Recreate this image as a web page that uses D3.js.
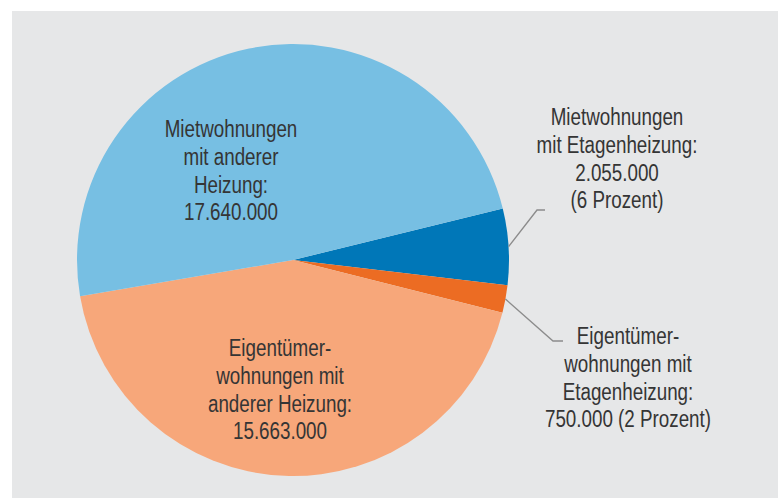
<!DOCTYPE html>
<html>
<head>
<meta charset="utf-8">
<script src="https://cdn.jsdelivr.net/npm/d3@7"></script>
<style>
  body { margin: 0; background: #fff; }
  svg text { font-family: "Liberation Sans", Arial, sans-serif; }
</style>
</head>
<body>
<div id="chart"></div>
<script>
// Wohnungen nach Heizungsart
var categories = ['Mietwohnungen mit Etagenheizung', 'Eigentümerwohnungen mit Etagenheizung',
                  'Eigentümerwohnungen mit anderer Heizung', 'Mietwohnungen mit anderer Heizung'];
var values = [2055000, 750000, 15663000, 17640000];
var colors = ['#0077b8', '#ec6c23', '#f7a77a', '#77bfe3'];
var labelLines = [
    ['Mietwohnungen', 'mit Etagenheizung:', '2.055.000', '(6 Prozent)'],
    ['Eigentümer-', 'wohnungen mit', 'Etagenheizung:', '750.000 (2 Prozent)'],
    ['Eigentümer-', 'wohnungen mit', 'anderer Heizung:', '15.663.000'],
    ['Mietwohnungen', 'mit anderer', 'Heizung:', '17.640.000']
];

var width = 778, height = 499;
var cx = 293, cy = 260, radius = 216;

var svg = d3.select('#chart').append('svg').attr('width', width).attr('height', height);

// grey panel
svg.append('rect').attr('x', 12).attr('y', 11).attr('width', width - 12).attr('height', height - 12)
    .attr('fill', '#e6e7e8');

var data = categories.map(function(c, i) {
    return { name: c, value: values[i], color: colors[i], lines: labelLines[i] };
});

var startA = 76.2 * Math.PI / 180;
var pie = d3.pie().sort(null).value(d => d.value).startAngle(startA).endAngle(startA + 2 * Math.PI);
var arc = d3.arc().innerRadius(0).outerRadius(radius);
var edgeArc = d3.arc().innerRadius(radius).outerRadius(radius);

var g = svg.append('g').attr('transform', 'translate(' + cx + ',' + cy + ')');
var arcs = pie(data);

g.selectAll('path.slice')
    .data(arcs)
    .enter()
    .append('path')
    .attr('class', 'slice')
    .attr('d', arc)
    .attr('fill', d => d.data.color);

// label anchor positions (relative to center) and leader elbows
var labelPos = [
    { x: 324, y: -135, leader: [[244, -50], [252, -50]] },
    { x: 335, y: 84, leader: [[260, 81], [270, 81]] },
    { x: -13, y: 96 },
    { x: -62, y: -123 }
];

var lineH = 27.8;

arcs.forEach(function(a, i) {
    var p = labelPos[i];
    if (p.leader) {
        var s = edgeArc.centroid(a);
        var pts = [s].concat(p.leader);
        g.append('path')
            .attr('d', d3.line()(pts))
            .attr('fill', 'none')
            .attr('stroke', '#8c8c8c')
            .attr('stroke-width', 1.4);
    }
    // condensed look: squeeze the text horizontally
    var t = g.append('text')
        .attr('transform', 'translate(' + p.x + ',' + p.y + ') scale(0.8,1)')
        .attr('text-anchor', 'middle')
        .attr('font-size', '23.5px')
        .attr('fill', '#353535');
    a.data.lines.forEach(function(l, j) {
        t.append('tspan').attr('x', 0).attr('y', j * lineH).text(l);
    });
});
</script>
</body>
</html>
